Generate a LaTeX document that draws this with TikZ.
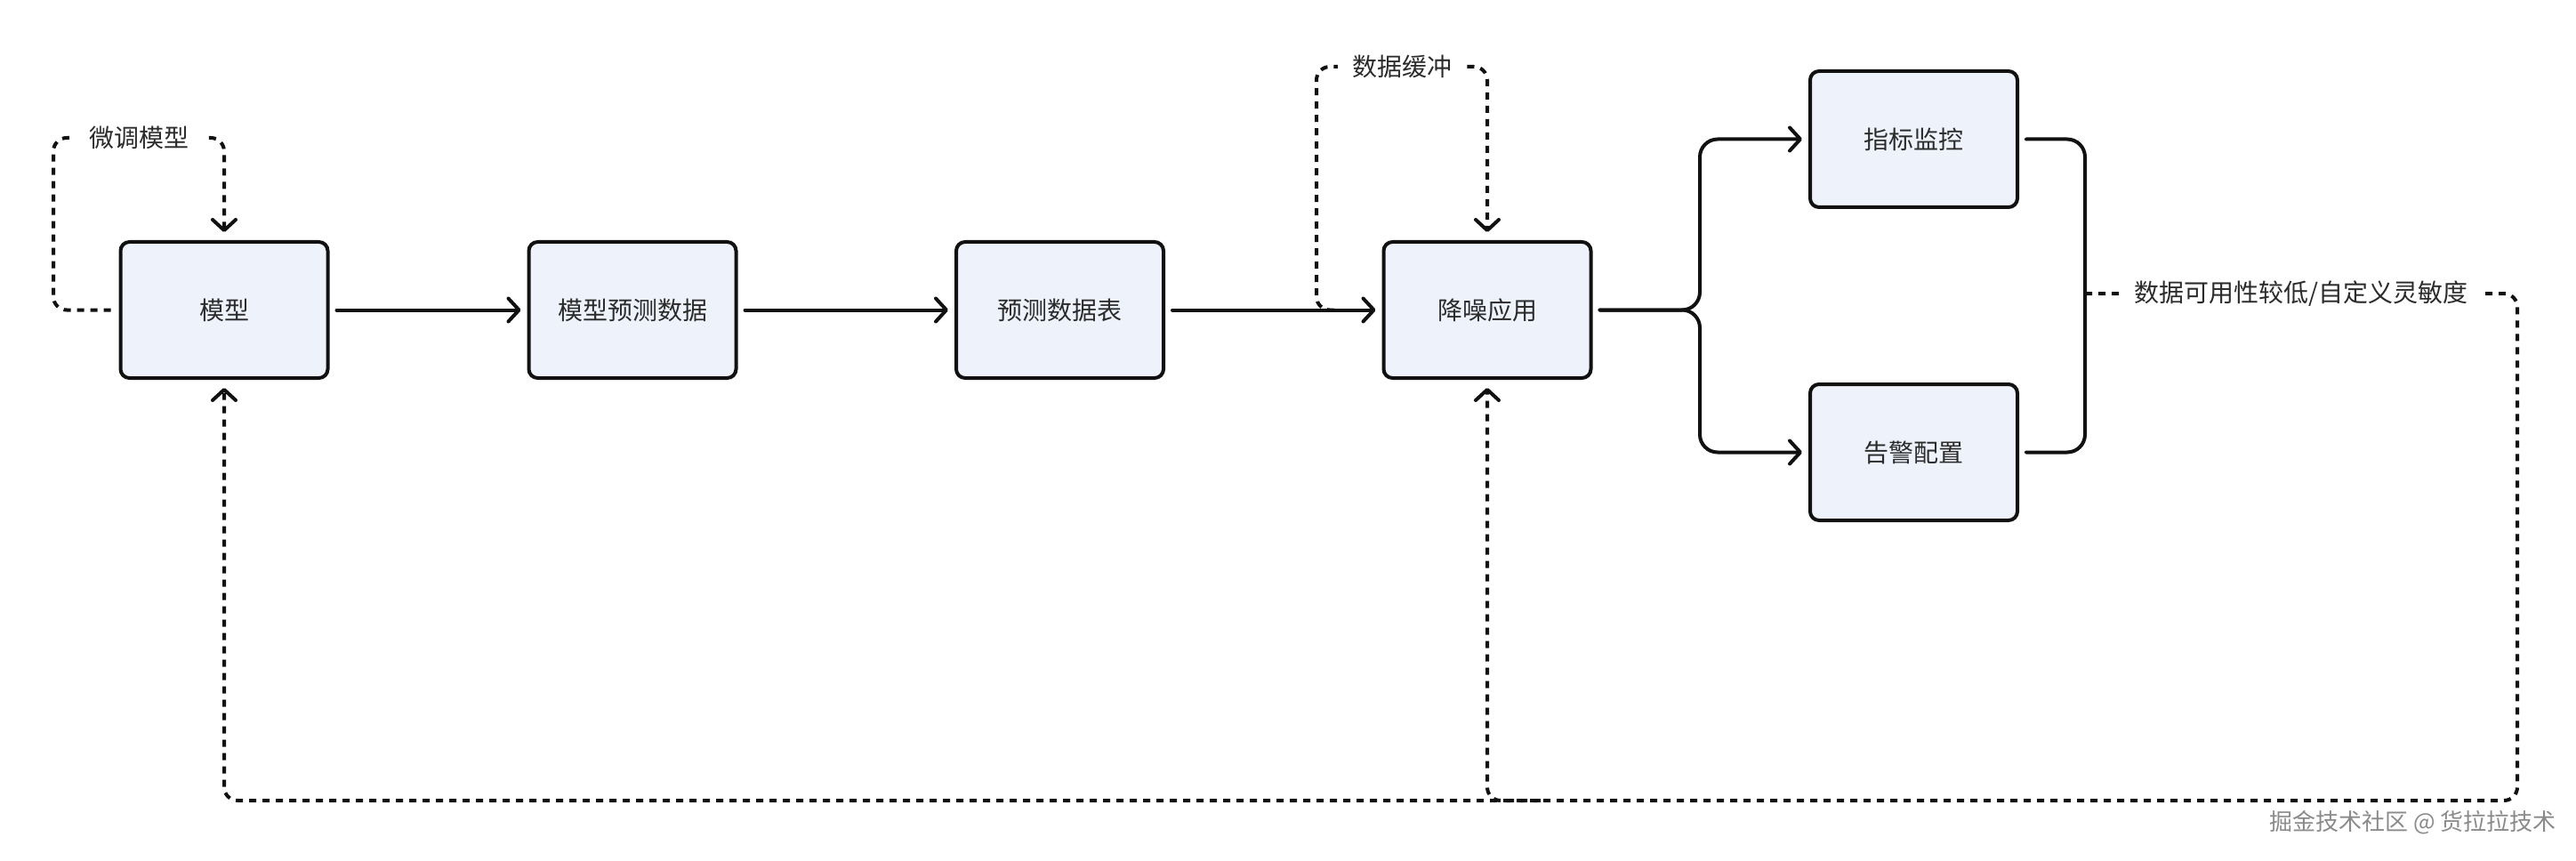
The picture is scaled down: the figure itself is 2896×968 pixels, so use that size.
\documentclass[tikz,border=0pt]{standalone}
\usepackage{fontspec}
\setmainfont{Noto Sans CJK SC}
\usetikzlibrary{arrows.meta}
\definecolor{boxfill}{HTML}{EEF2FA}
\definecolor{ink}{HTML}{111111}
\definecolor{txt}{HTML}{2B2B2B}
\definecolor{wmgray}{HTML}{8A8A8A}
\begin{document}
\begin{tikzpicture}[x=1pt,y=-1pt,
  box/.style={draw=ink, line width=4pt, fill=boxfill, rounded corners=10pt,
    minimum width=233pt, minimum height=153pt, inner sep=0pt,
    font=\fontsize{28}{32}\selectfont, text=txt},
  tipv/.style={-{Straight Barb[length=12pt,width=26pt,round]}},
  flow/.style={draw=ink, line width=4pt, line cap=round, tipv},
  plain/.style={draw=ink, line width=4pt, line cap=round},
  fb/.style={draw=ink, line width=4pt, dash pattern=on 8pt off 7pt, rounded corners=15pt},
  lbl/.style={fill=white, text=txt, font=\fontsize{28}{32}\selectfont, inner xsep=16pt, inner ysep=3pt}]
\fill[white] (0,0) rectangle (2896,968);
% nodes
\node[box] (m) at (252,348.5) {模型};
\node[box] (p) at (711,348.5) {模型预测数据};
\node[box] (t) at (1191.5,348.5) {预测数据表};
\node[box] (n) at (1672,348.5) {降噪应用};
\node[box] (k) at (2151.5,156.5) {指标监控};
\node[box] (a) at (2151.5,508.5) {告警配置};
% helper coordinates
\coordinate (fork) at (1911,348.5);
\coordinate (jt) at (2344,156.5);
\coordinate (jb) at (2344,508.5);
\coordinate (jm) at (2344,330);
\coordinate (c1) at (2830,330);
\coordinate (c2) at (2830,900);
\coordinate (bj) at (1732,900);
\coordinate (l1) at (60,155);
\coordinate (b0) at (1500,348.5);
\coordinate (b1) at (1480,75);
% main flow
\draw[flow, shorten <=8pt, shorten >=7pt] (m.east) -- (p.west);
\draw[flow, shorten <=8pt, shorten >=7pt] (p.east) -- (t.west);
\draw[flow, shorten <=8pt, shorten >=7pt] (t.east) -- (n.west);
% fork
\draw[flow, rounded corners=20pt, shorten <=8pt, shorten >=7pt] (n.east) -- (fork) |- (k.west);
\draw[flow, rounded corners=20pt, shorten <=8pt, shorten >=7pt] (n.east) -- (fork) |- (a.west);
% join
\draw[plain, rounded corners=20pt, shorten <=8pt, shorten >=8pt] (k.east) -- (jt) -- (jb) -- (a.east);
% self loops
\draw[fb, tipv, shorten <=9pt, shorten >=9pt] (m.west) -| (l1) -| node[pos=0.25, lbl] {微调模型} (m.north);
\draw[fb, tipv, shorten >=9pt] (b0) -| (b1) -| node[pos=0.25, lbl] {数据缓冲} (n.north);
% feedback
\draw[fb, tipv, shorten >=9pt] (jm) -- node[lbl] {数据可用性较低/自定义灵敏度} (c1) -- (c2) -| (m.south);
\draw[fb, tipv, shorten >=9pt] (bj) -| (n.south);
% watermark
\node[anchor=east, text=wmgray, font=\fontsize{26}{30}\selectfont, inner sep=0pt] (wm) at (2874,925) {掘金技术社区 @ 货拉拉技术};
\end{tikzpicture}
\end{document}
